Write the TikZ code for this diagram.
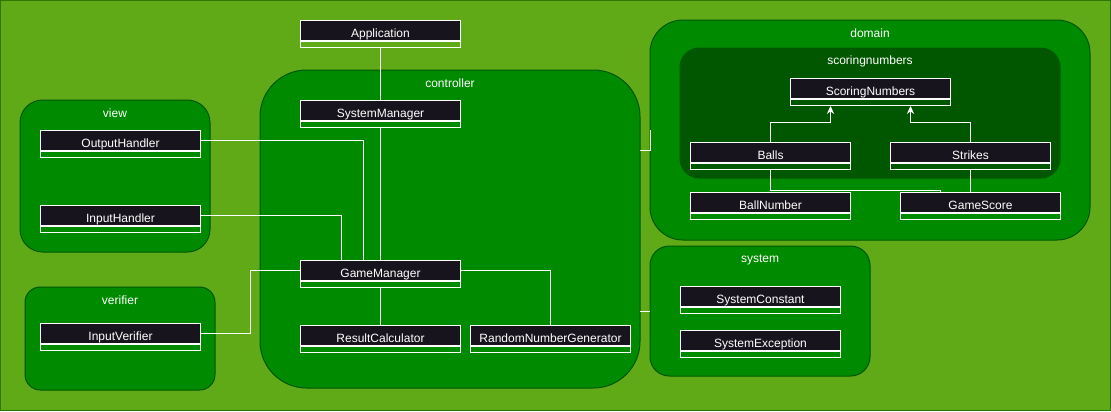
\documentclass[tikz,border=0pt]{standalone}
\usepackage{fontspec}
\setmainfont{Liberation Sans}
\usetikzlibrary{arrows.meta,calc,fit,positioning}
\definecolor{Lawn}{HTML}{60A917}
\definecolor{LawnLine}{HTML}{2D7600}
\definecolor{Pkg}{HTML}{008A00}
\definecolor{PkgLine}{HTML}{005700}
\definecolor{SubPkg}{HTML}{005700}
\definecolor{Head}{HTML}{18141D}
\tikzset{
  pkg/.style={
    draw=PkgLine, fill=Pkg, line width=0.75pt, inner sep=0pt
  },
  pkglabel/.style={
    text=white, inner sep=0pt, font=\fontsize{9}{10}\selectfont
  },
  classhead/.style={
    draw=white, fill=Head, text=white, line width=0.75pt, anchor=north west,
    minimum width=120pt, minimum height=15pt, inner sep=0pt,
    text height=13pt, text depth=2pt,
    font=\fontsize{9}{10}\selectfont
  },
  classfoot/.style={
    draw=white, line width=0.75pt,
    minimum width=120pt, minimum height=4.5pt, inner sep=0pt
  },
  link/.style={draw=white, line width=0.75pt},
  inherit/.style={link, -{Stealth[length=6pt,width=5.5pt,fill=white]}}
}
\newcommand{\umlclass}[3]{%
  \node[classhead] (#1) at (#2) {#3};
  \node[classfoot,below=0pt of #1] (#1-f) {};}

\begin{document}
\begin{tikzpicture}[x=0.75pt,y=-0.75pt]
        \draw[fill=Lawn,draw=LawnLine,line width=0.75pt] (0.5,0.5) rectangle (1110.5,410.5);
        \useasboundingbox (0,0) rectangle (1111,411);
        \node[pkg,rounded corners=35pt,fit={(260,70) (640,388)}] (controller) {};
        \node[pkg,rounded corners=17pt,fit={(20,100) (210,252)}] (view) {};
        \node[pkg,rounded corners=11.5pt,fit={(25,287) (215,390)}] (verifier) {};
        \node[pkg,rounded corners=24.75pt,fit={(650,20) (1090,240)}] (domain) {};
        \node[pkg,fill=SubPkg,rounded corners=14.5pt,fit={(680,48) (1060,178)}] (scoring) {};
        \node[pkg,rounded corners=14.5pt,fit={(650,246) (870,376)}] (system) {};
        \node[pkglabel] (controller-l) at (450,83) {controller};
        \node[pkglabel] (view-l) at (115,113) {view};
        \node[pkglabel] (verifier-l) at (120,300) {verifier};
        \node[pkglabel] (domain-l) at (870,33) {domain};
        \node[pkglabel] (scoring-l) at (870,61) {scoringnumbers};
        \node[pkglabel] (system-l) at (760,260) {system};
        \umlclass{app}{300,20}{Application}
        \umlclass{sysmgr}{300,100}{SystemManager}
        \umlclass{gamemgr}{300,260}{GameManager}
        \umlclass{rescalc}{300,325}{ResultCalculator}
        \umlclass{rng}{470,325}{RandomNumberGenerator}
        \umlclass{outh}{40,130}{OutputHandler}
        \umlclass{inh}{40,205}{InputHandler}
        \umlclass{inver}{40,323}{InputVerifier}
        \umlclass{scn}{790,78}{ScoringNumbers}
        \umlclass{balls}{690,142}{Balls}
        \umlclass{strikes}{890,142}{Strikes}
        \umlclass{ballnum}{690,192}{BallNumber}
        \umlclass{gscore}{900,192}{GameScore}
        \umlclass{sysconst}{680,286}{SystemConstant}
        \umlclass{sysexc}{680,330}{SystemException}
        \coordinate (ctrl-d) at (640,150);
        \coordinate (dom-c) at (650,130);
        \coordinate (ctrl-s) at (640,311);
        \coordinate (sys-c) at (650,311);
        \draw[link] (app-f.south) -- (sysmgr.north);
        \draw[link] (sysmgr-f.south) -- (gamemgr.north);
        \draw[link] (outh.east) -| ([xshift=-12.75pt]gamemgr.north);
        \draw[link] (inh.east) -| ([xshift=-29.25pt]gamemgr.north);
        \draw[link] (gamemgr.west) -- ++(-50,0) |- (inver.east);
        \draw[link] (gamemgr-f.south) -- (rescalc.north);
        \draw[link] (gamemgr.east) -| (rng.north);
        \draw[link] (ctrl-d) -| (dom-c);
        \draw[link] (ctrl-s) -- (sys-c);
        \draw[inherit] (balls.north) -- ++(0,-20) -| ([xshift=-30pt]scn-f.south);
        \draw[inherit] (strikes.north) -- ++(0,-20) -| ([xshift=30pt]scn-f.south);
        \draw[link] (balls-f.south) -- ++(0,20) -| ([xshift=-30pt]gscore.north);
        \draw[link] (strikes-f.south) -- (strikes-f.south |- gscore.north);
      \end{tikzpicture}
\end{document}
